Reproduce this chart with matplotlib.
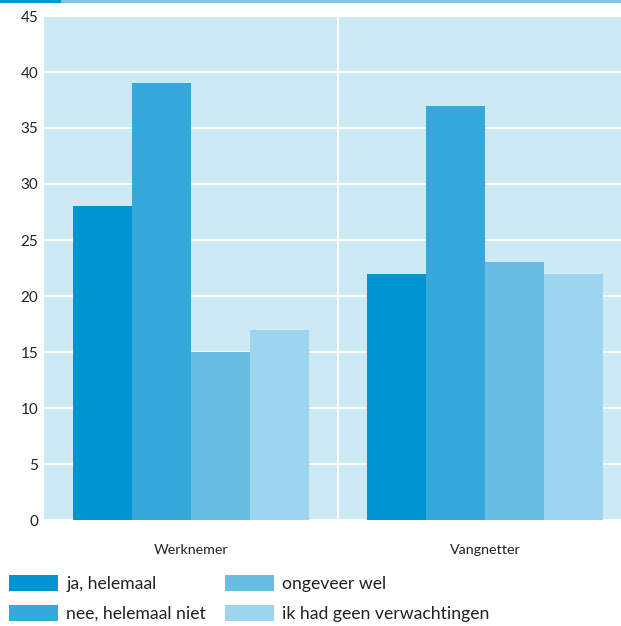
import numpy as np
import matplotlib.pyplot as plt
from matplotlib.patches import Rectangle

plt.rcParams['font.family'] = ['Lato', 'DejaVu Sans']

# data
groups = ['Werknemer', 'Vangnetter']
series = ['ja, helemaal', 'nee, helemaal niet', 'ongeveer wel', 'ik had geen verwachtingen']
ja_helemaal = [28, 22]
nee_helemaal_niet = [39, 37]
ongeveer_wel = [15, 23]
geen_verwachtingen = [17, 22]
yticks = [0, 5, 10, 15, 20, 25, 30, 35, 40, 45]

colors = ['#0095d0', '#35a9db', '#67bde2', '#9dd4ee']
bg = '#cce9f5'

fig = plt.figure(figsize=(6.21, 6.26), dpi=100)
ax = fig.add_axes([44 / 621, 1 - 520 / 626, 1 - 44 / 621, (520 - 16) / 626])
ax.set_facecolor(bg)

# balk bovenaan
fig.add_artist(Rectangle((0, 1 - 3 / 626), 61 / 621, 3 / 626, transform=fig.transFigure,
                         color='#0095d0', lw=0))
fig.add_artist(Rectangle((61 / 621, 1 - 3 / 626), 1, 3 / 626, transform=fig.transFigure,
                         color='#7fc8e6', lw=0))

x = np.arange(len(groups))
w = 0.2
values = [ja_helemaal, nee_helemaal_niet, ongeveer_wel, geen_verwachtingen]
handles = []
for i, v in enumerate(values):
    b = ax.bar(x + (i - 1.5) * w, v, w, color=colors[i], label=series[i], zorder=3, lw=0)
    handles.append(b)

ax.set_ylim(0, 45)
ax.set_xlim(-0.5, 1.5 - 11 / 294)
ax.set_yticks(yticks)
ax.yaxis.grid(True, color='white', lw=1.5, zorder=1)
ax.axvline(0.5, color='white', lw=1.5, zorder=1)
ax.set_axisbelow(True)
for s in ax.spines.values():
    s.set_visible(False)
ax.tick_params(axis='y', length=0, pad=4, labelsize=11, colors='#222222')
ax.tick_params(axis='x', length=0, pad=17, labelsize=10.3, colors='#222222')
ax.set_xticks(x)
ax.set_xticklabels(groups)

fig.legend(handles=handles, labels=series, ncol=2, loc='upper left',
           bbox_to_anchor=(4 / 621, 1 - 570 / 626), frameon=False, fontsize=12.7,
           handlelength=2.78, handleheight=1.0, handletextpad=0.45,
           columnspacing=1.08, labelspacing=0.72, borderaxespad=0, borderpad=0.3,
           labelcolor='#222222')

fig.savefig('out.png', dpi=100)
